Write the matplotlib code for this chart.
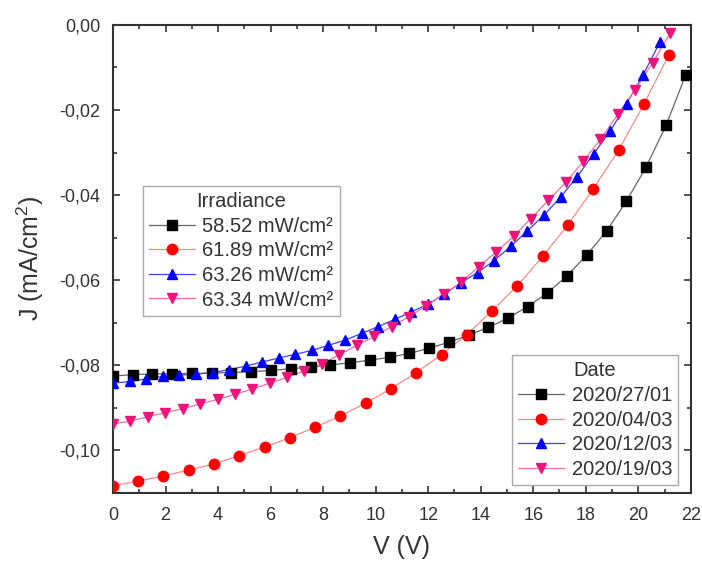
import matplotlib
matplotlib.use("Agg")
import matplotlib.pyplot as plt
from matplotlib.ticker import MultipleLocator, FuncFormatter

plt.rcParams['font.family'] = ['Liberation Sans', 'DejaVu Sans']
plt.rcParams['mathtext.fontset'] = 'custom'
plt.rcParams['mathtext.rm'] = 'Liberation Sans'
plt.rcParams['mathtext.it'] = 'Liberation Sans'

# J-V curves, one per measurement date
v_black = [0.00, 0.75, 1.50, 2.26, 3.01, 3.76, 4.51, 5.26, 6.02, 6.77, 7.52, 8.27,
           9.02, 9.78, 10.53, 11.28, 12.03, 12.78, 13.54, 14.29, 15.04, 15.79,
           16.54, 17.30, 18.05, 18.80, 19.55, 20.30, 21.06, 21.81]
j_black = [-0.0825, -0.0822, -0.0820, -0.0820, -0.0819, -0.0818, -0.0817, -0.0815,
           -0.0812, -0.0808, -0.0804, -0.0799, -0.0794, -0.0788, -0.0781, -0.0772,
           -0.0760, -0.0746, -0.0729, -0.0711, -0.0689, -0.0662, -0.0630, -0.0589,
           -0.0540, -0.0484, -0.0414, -0.0334, -0.0236, -0.0117]

v_red = [0.00, 0.96, 1.92, 2.89, 3.85, 4.81, 5.77, 6.74, 7.70, 8.66, 9.62, 10.58,
         11.55, 12.51, 13.47, 14.43, 15.40, 16.36, 17.32, 18.28, 19.25, 20.21, 21.17]
j_red = [-0.1083, -0.1072, -0.1060, -0.1046, -0.1032, -0.1012, -0.0992, -0.0970,
         -0.0945, -0.0919, -0.0889, -0.0855, -0.0817, -0.0775, -0.0728, -0.0672,
         -0.0613, -0.0544, -0.0470, -0.0386, -0.0295, -0.0187, -0.0070]

v_blue = [0.00, 0.63, 1.26, 1.89, 2.52, 3.16, 3.79, 4.42, 5.05, 5.68, 6.31, 6.94,
          7.57, 8.20, 8.83, 9.47, 10.10, 10.73, 11.36, 11.99, 12.62, 13.25, 13.88,
          14.51, 15.15, 15.78, 16.41, 17.04, 17.67, 18.30, 18.93, 19.56, 20.19, 20.83]
j_blue = [-0.0842, -0.0838, -0.0832, -0.0826, -0.0823, -0.0821, -0.0817, -0.0810,
          -0.0802, -0.0792, -0.0783, -0.0774, -0.0765, -0.0753, -0.0741, -0.0725,
          -0.0709, -0.0692, -0.0674, -0.0657, -0.0632, -0.0606, -0.0582, -0.0554,
          -0.0520, -0.0484, -0.0447, -0.0405, -0.0357, -0.0303, -0.0250, -0.0185,
          -0.0117, -0.0040]

v_pink = [0.00, 0.66, 1.33, 1.99, 2.65, 3.32, 3.98, 4.64, 5.30, 5.97, 6.63, 7.29,
          7.96, 8.62, 9.28, 9.95, 10.61, 11.27, 11.93, 12.60, 13.26, 13.92, 14.59,
          15.25, 15.91, 16.58, 17.24, 17.90, 18.56, 19.23, 19.89, 20.55, 21.22]
j_pink = [-0.0938, -0.0931, -0.0921, -0.0911, -0.0902, -0.0891, -0.0880, -0.0868,
          -0.0856, -0.0842, -0.0828, -0.0813, -0.0796, -0.0775, -0.0753, -0.0732,
          -0.0709, -0.0686, -0.0660, -0.0633, -0.0605, -0.0568, -0.0534, -0.0497,
          -0.0455, -0.0412, -0.0370, -0.0321, -0.0269, -0.0210, -0.0152, -0.0089,
          -0.0019]

irradiance = ['58.52 mW/cm²', '61.89 mW/cm²', '63.26 mW/cm²', '63.34 mW/cm²']
dates = ['2020/27/01', '2020/04/03', '2020/12/03', '2020/19/03']

series = [
    (v_black, j_black, 's', 'black', '#666666', 6.5),
    (v_red, j_red, 'o', '#FF0000', '#FF8A8A', 7.5),
    (v_blue, j_blue, '^', '#0000FF', '#4040FF', 7.5),
    (v_pink, j_pink, 'v', '#F0147A', '#F070A8', 7.5),
]

fig = plt.figure(figsize=(7.02, 5.66), dpi=100)
ax = fig.add_axes([0.161, 0.129, 0.823, 0.827])

handles = []
for v, j, mk, mc, lc, ms in series:
    ax.plot(v, j, '-', color=lc, lw=0.9, zorder=2)
    ax.plot(v, j, mk, color=mc, ms=ms, mec=mc, zorder=3)
    h, = ax.plot([], [], '-', color=lc, lw=0.9, marker=mk, mfc=mc, mec=mc, ms=ms)
    handles.append(h)

ax.set_xlim(0, 22)
ax.set_ylim(-0.11, 0.0)
ax.xaxis.set_major_locator(MultipleLocator(2))
ax.xaxis.set_minor_locator(MultipleLocator(1))
ax.yaxis.set_major_locator(MultipleLocator(0.02))
ax.yaxis.set_minor_locator(MultipleLocator(0.01))
ax.yaxis.set_major_formatter(FuncFormatter(lambda y, p: ('%.2f' % y).replace('.', ',').replace('-0,00', '0,00')))

txt = '#333333'
ax.tick_params(which='both', direction='in', top=True, right=True,
               colors='#333333', labelcolor=txt, labelsize=13, width=1.2)
ax.tick_params(which='major', length=5)
ax.tick_params(which='minor', length=3)
ax.tick_params(axis='x', which='major', pad=10)
ax.tick_params(axis='y', which='major', pad=9)
for s in ax.spines.values():
    s.set_linewidth(1.5)
    s.set_color('#333333')

ax.set_xlabel('V (V)', fontsize=18, color=txt, labelpad=8)
ax.set_ylabel('J (mA/cm$^2$)', fontsize=18, color=txt, labelpad=10)

leg_kw = dict(borderaxespad=0, fontsize=14.5, title_fontsize=14.5,
              handlelength=2.3, handletextpad=0.35, labelspacing=0.28,
              borderpad=0.3, fancybox=False, edgecolor='#AAAAAA', framealpha=1)

leg1 = ax.legend(handles, irradiance, title='Irradiance', loc='upper left',
                 bbox_to_anchor=(0.052, 0.656), **leg_kw)
ax.add_artist(leg1)
leg2 = ax.legend(handles, dates, title='Date', loc='lower right',
                 bbox_to_anchor=(0.978, 0.017), **leg_kw)
for leg in (leg1, leg2):
    for t in leg.get_texts():
        t.set_color(txt)
    leg.get_title().set_color(txt)
    leg.get_frame().set_linewidth(1.0)

fig.savefig('out.png', dpi=100)
